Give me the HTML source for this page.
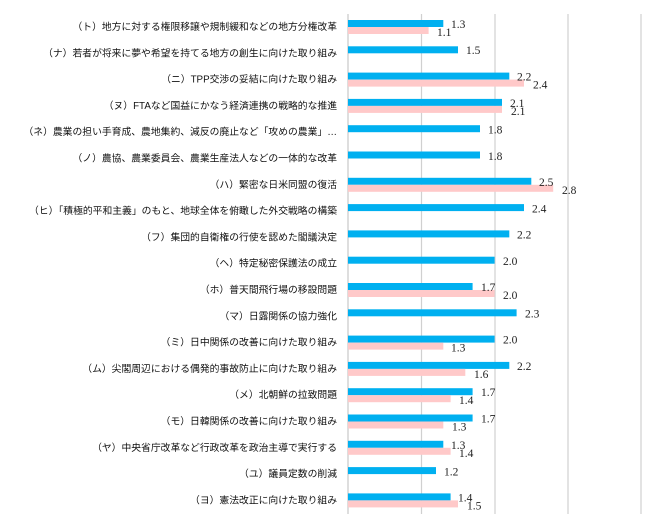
<!DOCTYPE html>
<html><head><meta charset="utf-8"><style>
html,body{margin:0;padding:0;background:#fff;}
svg{display:block;}
.l{font-family:"Liberation Sans","Noto Sans CJK JP",sans-serif;font-size:9.8px;fill:#111;letter-spacing:0px;}
.v{font-family:"Liberation Serif","DejaVu Serif",serif;font-size:11.5px;fill:#222;}
</style></head><body>
<svg width="670" height="524" viewBox="0 0 670 524" xmlns="http://www.w3.org/2000/svg">
<g stroke="#d0d0d0" stroke-width="1.2">
<line x1="421.5" y1="14" x2="421.5" y2="514"/>
<line x1="495" y1="14" x2="495" y2="514"/>
<line x1="568" y1="14" x2="568" y2="514"/>
<line x1="641" y1="14" x2="641" y2="514"/>
</g>
<line x1="348" y1="14" x2="348" y2="514" stroke="#c8c8c8" stroke-width="1.2"/>
<g fill="#00b0f0">
<rect x="348" y="20" width="95.3" height="7"/>
<rect x="348" y="46.3" width="110" height="7"/>
<rect x="348" y="72.6" width="161.3" height="7"/>
<rect x="348" y="98.9" width="154" height="7"/>
<rect x="348" y="125.2" width="132" height="7"/>
<rect x="348" y="151.5" width="132" height="7"/>
<rect x="348" y="177.8" width="183.3" height="7"/>
<rect x="348" y="204.1" width="176" height="7"/>
<rect x="348" y="230.4" width="161.3" height="7"/>
<rect x="348" y="256.7" width="146.6" height="7"/>
<rect x="348" y="283" width="124.6" height="7"/>
<rect x="348" y="309.3" width="168.6" height="7"/>
<rect x="348" y="335.6" width="146.6" height="7"/>
<rect x="348" y="361.9" width="161.3" height="7"/>
<rect x="348" y="388.2" width="124.6" height="7"/>
<rect x="348" y="414.5" width="124.6" height="7"/>
<rect x="348" y="440.8" width="95.3" height="7"/>
<rect x="348" y="467.1" width="88" height="7"/>
<rect x="348" y="493.4" width="102.6" height="7"/>
</g>
<g fill="#ffc9c9">
<rect x="348" y="27" width="80.6" height="7"/>
<rect x="348" y="79.6" width="176" height="7"/>
<rect x="348" y="105.9" width="154" height="7"/>
<rect x="348" y="184.8" width="205.2" height="7"/>
<rect x="348" y="290" width="146.6" height="7"/>
<rect x="348" y="342.6" width="95.3" height="7"/>
<rect x="348" y="368.9" width="117.3" height="7"/>
<rect x="348" y="395.2" width="102.6" height="7"/>
<rect x="348" y="421.5" width="95.3" height="7"/>
<rect x="348" y="447.8" width="102.6" height="7"/>
<rect x="348" y="500.4" width="110" height="7"/>
</g>
<g class="v">
<text x="451" y="28">1.3</text><text x="437" y="36">1.1</text>
<text x="466" y="54">1.5</text>
<text x="517" y="80.6">2.2</text><text x="533" y="88.6">2.4</text>
<text x="510" y="107">2.1</text><text x="511" y="115">2.1</text>
<text x="488" y="133.5">1.8</text>
<text x="488" y="160">1.8</text>
<text x="539" y="186">2.5</text><text x="562" y="194">2.8</text>
<text x="532" y="212.5">2.4</text>
<text x="517" y="238.5">2.2</text>
<text x="503" y="265">2.0</text>
<text x="481" y="291">1.7</text><text x="503" y="299">2.0</text>
<text x="525" y="317.5">2.3</text>
<text x="503" y="343.6">2.0</text><text x="451" y="351.6">1.3</text>
<text x="517" y="370">2.2</text><text x="474" y="378">1.6</text>
<text x="481" y="396">1.7</text><text x="459" y="404">1.4</text>
<text x="481" y="422.5">1.7</text><text x="452" y="430.5">1.3</text>
<text x="451" y="449">1.3</text><text x="459" y="457">1.4</text>
<text x="444" y="475.5">1.2</text>
<text x="458" y="501.4">1.4</text><text x="467" y="509.4">1.5</text>
</g>
<g class="l" text-anchor="end">
<text x="337" y="30">（ト）地方に対する権限移譲や規制緩和などの地方分権改革</text>
<text x="337" y="56.3">（ナ）若者が将来に夢や希望を持てる地方の創生に向けた取り組み</text>
<text x="337" y="82.6">（ニ）TPP交渉の妥結に向けた取り組み</text>
<text x="337" y="108.9">（ヌ）FTAなど国益にかなう経済連携の戦略的な推進</text>
<text x="337" y="135.2">（ネ）農業の担い手育成、農地集約、減反の廃止など「攻めの農業」…</text>
<text x="337" y="161.5">（ノ）農協、農業委員会、農業生産法人などの一体的な改革</text>
<text x="337" y="187.8">（ハ）緊密な日米同盟の復活</text>
<text x="337" y="214.1">（ヒ）「積極的平和主義」のもと、地球全体を俯瞰した外交戦略の構築</text>
<text x="337" y="240.4">（フ）集団的自衛権の行使を認めた閣議決定</text>
<text x="337" y="266.7">（ヘ）特定秘密保護法の成立</text>
<text x="337" y="293">（ホ）普天間飛行場の移設問題</text>
<text x="337" y="319.3">（マ）日露関係の協力強化</text>
<text x="337" y="345.6">（ミ）日中関係の改善に向けた取り組み</text>
<text x="337" y="371.9">（ム）尖閣周辺における偶発的事故防止に向けた取り組み</text>
<text x="337" y="398.2">（メ）北朝鮮の拉致問題</text>
<text x="337" y="424.5">（モ）日韓関係の改善に向けた取り組み</text>
<text x="337" y="450.8">（ヤ）中央省庁改革など行政改革を政治主導で実行する</text>
<text x="337" y="477.1">（ユ）議員定数の削減</text>
<text x="337" y="503.4">（ヨ）憲法改正に向けた取り組み</text>
</g>
</svg>
</body></html>
